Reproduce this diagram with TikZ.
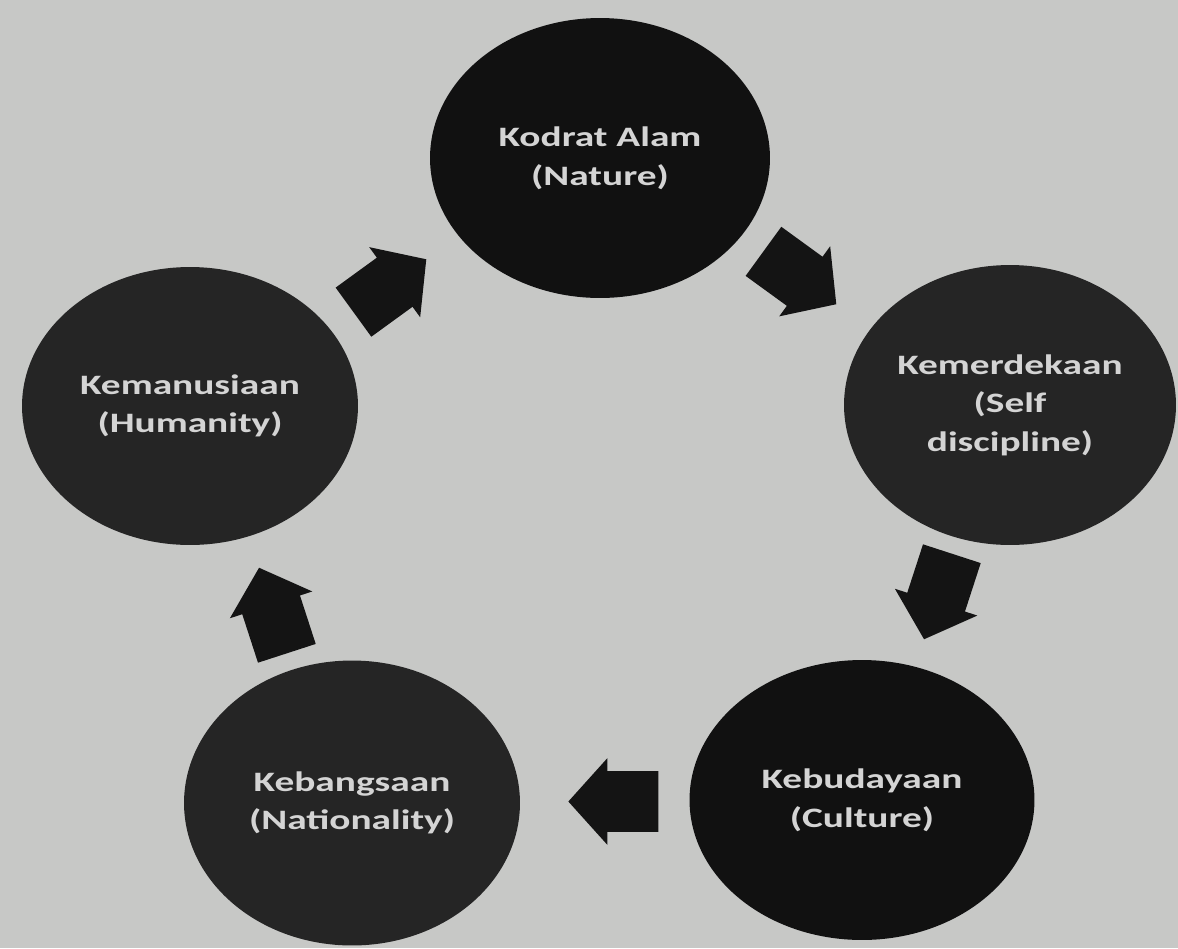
\documentclass[tikz,border=0pt]{standalone}
\usepackage{fontspec}
\usepackage{tikz}
\usetikzlibrary{shapes.geometric,shapes.arrows,calc}
\newfontfamily\cyclefont{Carlito}[FakeStretch=1.4]
\definecolor{paper}{HTML}{C7C8C6}
\definecolor{blob}{HTML}{111111}
\definecolor{blobgrain}{HTML}{252525}
\definecolor{blobtext}{HTML}{D4D4D4}
\definecolor{pointer}{HTML}{141414}

\begin{document}
\begin{tikzpicture}[
  x=0.02cm, y=-0.02cm,
  value/.style={ellipse, fill=blob, text=blobtext, inner sep=0pt, align=center,
    font=\cyclefont\bfseries\fontsize{16}{22}\selectfont},
  flow/.style={single arrow, fill=pointer, inner xsep=0pt, inner ysep=0.6cm,
    minimum height=1.8cm, minimum width=0pt, single arrow head extend=0.26cm,
    single arrow tip angle=96, rotate=#1, xshift=-0.4cm}
]
\fill[paper] (0,0) rectangle (1178,948);
\useasboundingbox (0,0) rectangle (1178,948);

\node[value, minimum width=6.8cm, minimum height=5.6cm] (nature) at (600,158) {Kodrat Alam\\(Nature)};
\node[value, fill=blobgrain, minimum width=6.64cm, minimum height=5.6cm] (self) at (1010,405) {Kemerdekaan\\(Self\\discipline)};
\node[value, minimum width=6.9cm, minimum height=5.6cm] (culture) at (862,800) {Kebudayaan\\(Culture)};
\node[value, fill=blobgrain, minimum width=6.72cm, minimum height=5.7cm] (nation) at (352,803) {Kebangsaan\\(Nationality)};
\node[value, fill=blobgrain, minimum width=6.72cm, minimum height=5.56cm] (humanity) at (190,406) {Kemanusiaan\\(Humanity)};

% block arrows half way between the circles
\node[flow=36] (toNature) at ($(humanity)!0.5!(nature)$) {};
\node[flow=-36] (toSelf) at ($(nature)!0.5!(self)$) {};
\node[flow=-108] (toCulture) at ($(self)!0.5!(culture)$) {};
\node[flow=180] (toNation) at ($(culture)!0.5!(nation)$) {};
\node[flow=108] (toHumanity) at ($(nation)!0.5!(humanity)$) {};
\end{tikzpicture}
\end{document}
